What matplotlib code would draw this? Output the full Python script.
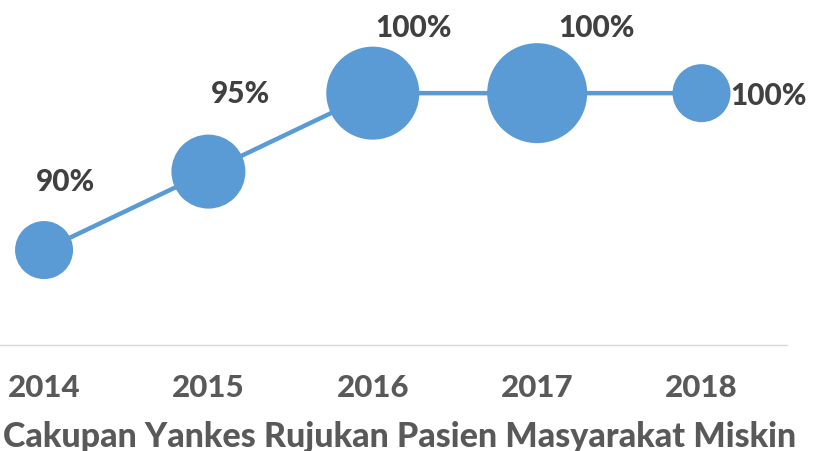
import matplotlib
matplotlib.use("Agg")
import matplotlib.pyplot as plt

years = ["2014", "2015", "2016", "2017", "2018"]
coverage = [90, 95, 100, 100, 100]
bubble = [58, 74, 93, 100, 58]  # relative bubble diameters
title = "Cakupan Yankes Rujukan Pasien Masyarakat Miskin"

blue = "#5B9BD5"
dark = "#404040"
grey = "#595959"
font = "Lato"
weight = 900

fig = plt.figure(figsize=(8.13, 4.52), dpi=100)
ax = fig.add_axes([0, 1 - 346 / 452, 787 / 813, 346 / 452])

xs = list(range(len(years)))
ax.plot(xs, coverage, color=blue, lw=3.2, zorder=1)
px = 72 / fig.dpi
ax.scatter(xs, coverage, s=[(d * px) ** 2 for d in bubble], color=blue,
           edgecolors="none", zorder=2)

# label offsets in pixels (dx, dy)
offs = [(21, 69), (32, 79), (41, 66), (59, 66), (67, -2)]
for x, v, (dx, dy) in zip(xs, coverage, offs):
    ax.annotate(f"{v}%", (x, v), xytext=(dx * px, dy * px), textcoords="offset points",
                ha="center", va="center", fontsize=21.5, fontweight=weight,
                color=dark, family=font)

ax.set_xlim(-0.268, 4.52)
ax.set_ylim(83.95, 106)
ax.set_yticks([])
ax.set_xticks(xs)
ax.set_xticklabels(years, fontsize=22.5, fontweight=weight, color=grey, family=font)
ax.tick_params(axis="x", length=0, pad=20.5)
for s in ["top", "left", "right"]:
    ax.spines[s].set_visible(False)
ax.spines["bottom"].set_color("#d9d9d9")
ax.spines["bottom"].set_linewidth(1)
ax.patch.set_alpha(0)

fig.text(400 / 813, 1 - 437 / 452, title, ha="center", va="center",
         fontsize=24.5, fontweight=weight, color=grey, family=font)

fig.savefig("out.png", dpi=100)
